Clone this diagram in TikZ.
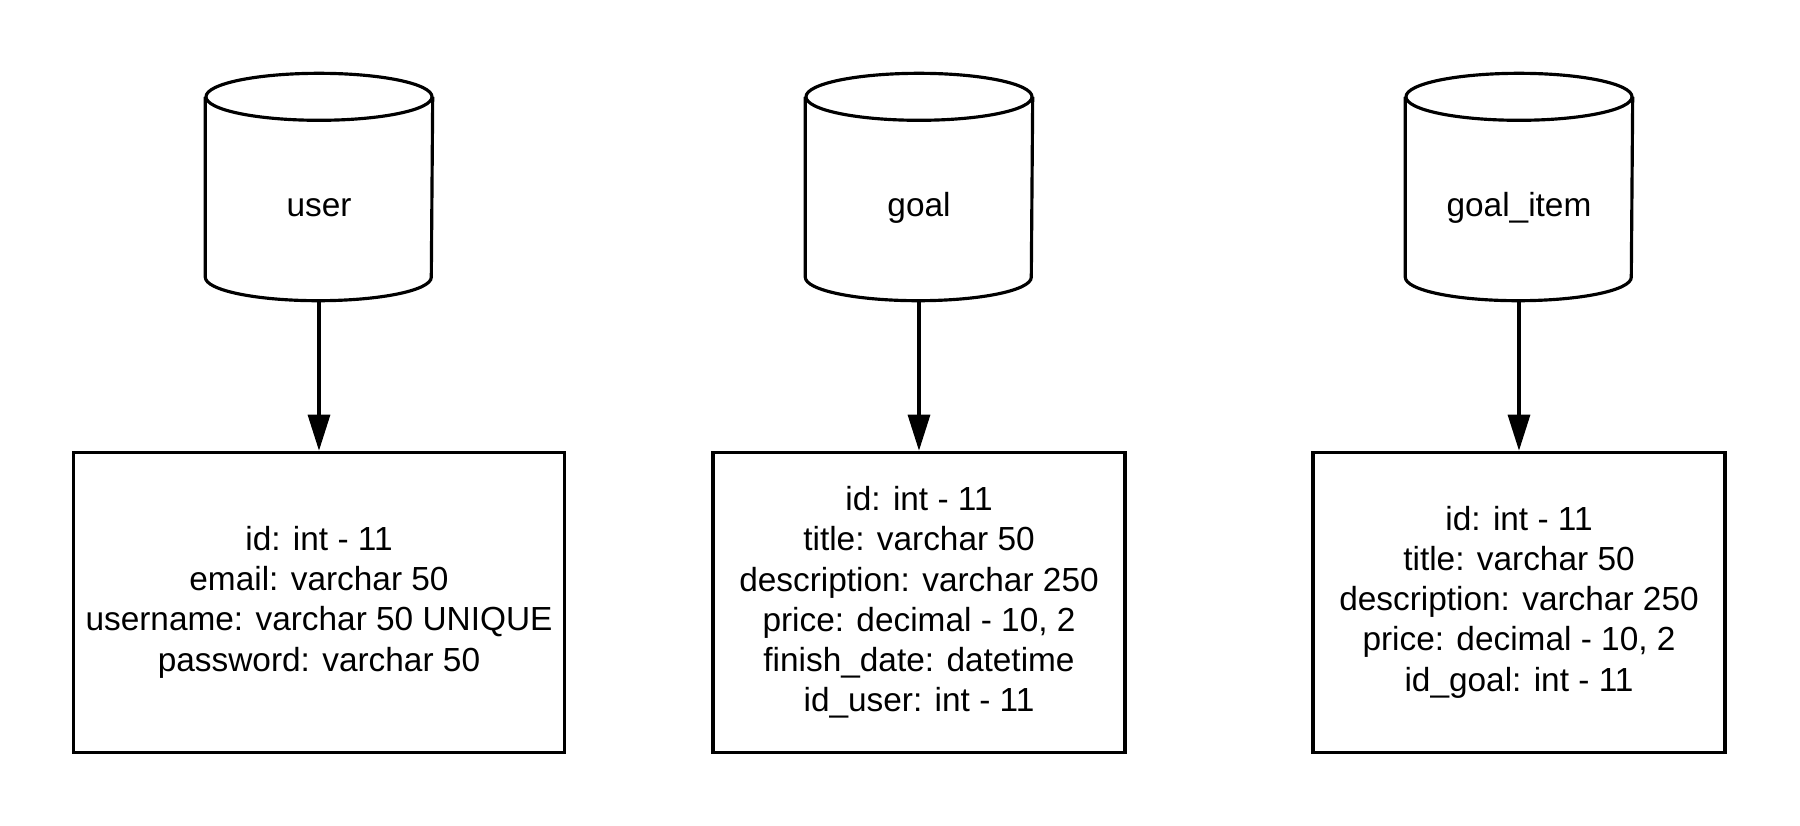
\documentclass[tikz,border=0pt]{standalone}
\usepackage{fontspec}
\setmainfont{Liberation Sans}
\usetikzlibrary{positioning}
\usetikzlibrary{arrows.meta}

\tikzset{
  dbtable/.style={rectangle,minimum width=2.26cm,minimum height=1.84cm,inner sep=0pt,font=\fontsize{9.5}{11.4}\selectfont},
  dbline/.style={draw=black,line width=0.9pt},
  fields/.style={rectangle,draw=black,line width=0.9pt,minimum height=3cm,align=center,font=\fontsize{9.5}{11.4}\selectfont},
  link/.style={line width=0.9pt,-{Triangle[length=0.36cm,width=0.22cm]}}
}

\begin{document}
\begin{tikzpicture}
\useasboundingbox (0,0) rectangle (18,-8.25);

% tables
\node[dbtable] (user) at (3.19,-2.08) {user};
\node[dbtable] (goal) at (9.19,-2.08) {goal};
\node[dbtable] (goalitem) at (15.19,-2.08) {goal\_item};

% cylinder outlines
\foreach \t in {user,goal,goalitem} {
  \draw[dbline] ([yshift=0.185cm]\t.north) ellipse [x radius=1.13cm, y radius=0.235cm];
  \draw[dbline] ([yshift=0.185cm]\t.north west) -- ([yshift=0.235cm]\t.south west)
    arc [start angle=180, end angle=360, x radius=1.13cm, y radius=0.235cm]
    -- ([yshift=0.185cm]\t.north east);
}

% columns
\node[fields,minimum width=4.88cm,below=1.5cm of user] (userT) {id: int - 11\\email: varchar 50\\username: varchar 50 UNIQUE\\password: varchar 50};
\node[fields,minimum width=4.12cm,below=1.5cm of goal] (goalT) {id: int - 11\\title: varchar 50\\description: varchar 250\\price: decimal - 10, 2\\finish\_date: datetime\\id\_user: int - 11};
\node[fields,minimum width=4.12cm,below=1.5cm of goalitem] (goalitemT) {id: int - 11\\title: varchar 50\\description: varchar 250\\price: decimal - 10, 2\\id\_goal: int - 11};

\draw[link] (user) -- (userT);
\draw[link] (goal) -- (goalT);
\draw[link] (goalitem) -- (goalitemT);

\end{tikzpicture}
\end{document}
